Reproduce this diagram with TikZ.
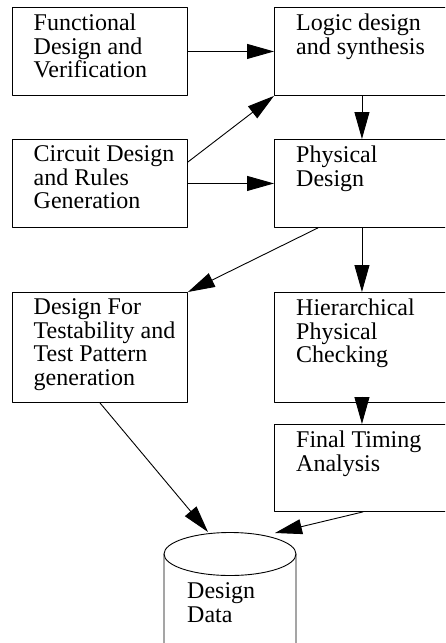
\documentclass[tikz,border=0pt]{standalone}
\usepackage{fontspec}
\setmainfont{Liberation Serif}
\usetikzlibrary{arrows.meta}

\begin{document}
\begin{tikzpicture}[x=1pt,y=1pt,line cap=round,line join=round,
  stage/.style={draw,line width=.9pt,anchor=north west,inner sep=0pt,minimum width=175pt,minimum height=88pt},
  stagetext/.style={anchor=north west,align=left,inner sep=0pt,font=\fontsize{24}{23.5}\selectfont},
  flow/.style={line width=.9pt,-{Triangle[length=27pt,width=15pt]}}]
\path[use as bounding box] (0,0) rectangle (445,-643);
\clip (0,0) rectangle (445,-643);
% boxes
\node[stage] (func) at (12,-7) {};
\node[stage] (logic) at (274,-7) {};
\node[stage] (circ) at (12,-139) {};
\node[stage] (phys) at (274,-139) {};
\node[stage,minimum height=110pt] (dft) at (12,-292) {};
\node[stage,minimum height=110pt] (hier) at (274,-292) {};
\node[stage,minimum height=87pt] (final) at (274,-424) {};
% texts
\node[stagetext] (functext) at ([shift={(21.5pt,-6.8pt)}]func.north west) {Functional\\Design and\\Verification};
\node[stagetext] (logictext) at ([shift={(22pt,-6.8pt)}]logic.north west) {Logic design\\and synthesis};
\node[stagetext] (circtext) at ([shift={(21.5pt,-6.8pt)}]circ.north west) {Circuit Design\\and Rules\\Generation};
\node[stagetext] (phystext) at ([shift={(22pt,-6.8pt)}]phys.north west) {Physical\\Design};
\node[stagetext] (dfttext) at ([shift={(21.5pt,-6.8pt)}]dft.north west) {Design For\\Testability and\\Test Pattern\\generation};
\node[stagetext] (hiertext) at ([shift={(22pt,-6.8pt)}]hier.north west) {Hierarchical\\Physical\\Checking};
\node[stagetext] (finaltext) at ([shift={(22pt,-6.8pt)}]final.north west) {Final Timing\\Analysis};
% design data cylinder
\draw[line width=.9pt] (164,-700) -- (164,-554) arc[start angle=180,end angle=0,x radius=66,y radius=21.5] -- (296,-700);
\draw[line width=.9pt] (164,-554) arc[start angle=180,end angle=360,x radius=66,y radius=21.5];
\coordinate (dataleft) at (208,-532);
\coordinate (dataright) at (275,-533);
\node[stagetext] (datatext) at (187,-582.8) {Design\\Data};
% arrows
\draw[flow] (func.east) -- (logic.west);
\draw[flow] ([yshift=-23pt]circ.north east) -- (logic.south west);
\draw[flow] (circ.east) -- (phys.west);
\draw[flow] (logic.south) -- (phys.north);
\draw[flow] ([xshift=-44pt]phys.south) -- (dft.north east);
\draw[flow] (phys.south) -- (hier.north);
\draw[flow] (hier.south) -- (final.north);
\draw[flow] (dft.south) -- (dataleft);
\draw[flow] ([xshift=1pt]final.south) -- (dataright);
\end{tikzpicture}
\end{document}
